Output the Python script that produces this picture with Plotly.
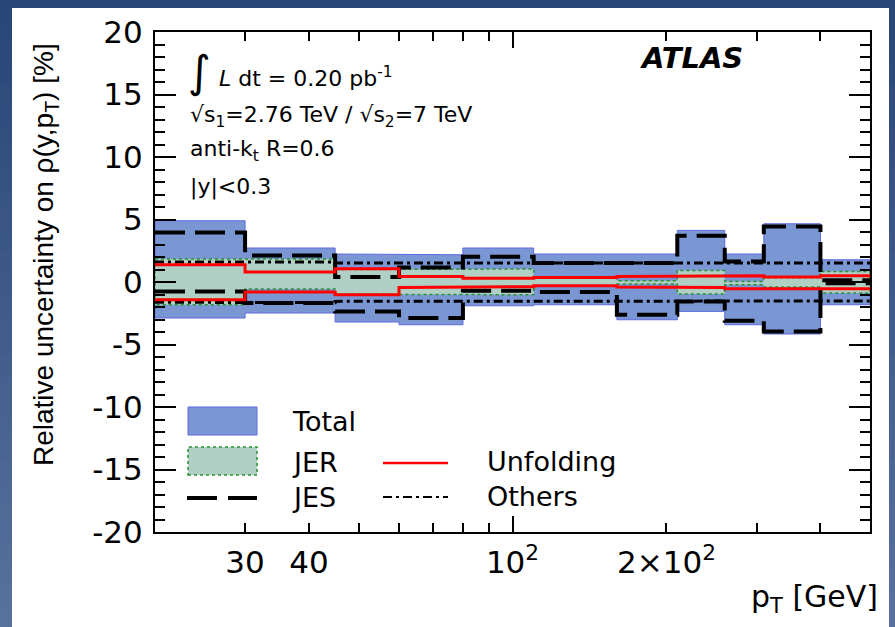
import plotly.graph_objects as go

# Bin edges in jet pT [GeV]
pt_edges = [20, 30, 45, 60, 80, 110, 160, 210, 260, 310, 400, 500]

# Relative uncertainty components [%] per pT bin (upward / downward variation)
total_up = [4.90, 2.72, 2.24, 2.18, 2.72, 2.24, 2.24, 4.13, 2.24, 4.66, 1.78]
total_dn = [-2.88, -2.48, -3.20, -3.42, -1.90, -1.82, -3.02, -2.35, -3.42, -4.16, -1.82]

jer_up = [1.84, 1.84, 1.00, 0.98, 1.04, 0.33, 0.10, 0.93, 0.05, 0.35, 0.85]
jer_dn = [-1.82, -0.55, -0.98, -1.02, -1.02, -0.30, -0.16, -0.96, -0.22, -0.40, -0.88]

jes_up = [3.97, 2.13, 0.40, 1.17, 2.02, 1.52, 1.52, 3.70, 1.65, 4.45, 0.15]
jes_dn = [-0.75, -1.68, -2.35, -2.88, -0.70, -0.80, -2.62, -1.55, -3.10, -3.95, -0.10]

unf_up = [1.38, 0.80, 1.06, 0.45, 0.30, 0.37, 0.45, 0.50, 0.50, 0.40, 0.50]
unf_dn = [-1.42, -0.80, -1.02, -0.43, -0.38, -0.30, -0.40, -0.43, -0.54, -0.48, -0.54]

oth_up = [1.60, 1.60, 1.52, 1.52, 1.52, 1.52, 1.52, 1.52, 1.52, 1.52, 1.52]
oth_dn = [-1.62, -1.65, -1.55, -1.52, -1.52, -1.52, -1.52, -1.52, -1.52, -1.52, -1.52]

y_ticks = [-20, -15, -10, -5, 0, 5, 10, 15, 20]
y_ticktext = ["-20", "-15", "-10", "-5", "0", "5", "10", "15", "20"]
x_ticks = [30, 40, 100, 200]
x_ticktext = ["30", "40", "10<sup>2</sup>", "2×10<sup>2</sup>"]
x_minor = [50, 60, 70, 80, 90, 300, 400]

# Figure geometry (pixels)
W, H = 895, 627
L, R, T, B = 155, 870, 32, 532

TOTAL_FILL = "rgb(122,151,212)"
TOTAL_LINE = "rgb(95,105,225)"
JER_FILL = "rgb(176,208,197)"
JER_LINE = "rgb(40,145,50)"
FONT = "DejaVu Sans, Liberation Sans, Arial, sans-serif"


def step(edges, vals):
    xs, ys = [], []
    for i, v in enumerate(vals):
        xs += [edges[i], edges[i + 1]]
        ys += [v, v]
    return xs, ys


def band(edges, up, dn):
    xu, yu = step(edges, up)
    xd, yd = step(edges, dn)
    return xu + xd[::-1] + [xu[0]], yu + yd[::-1] + [yu[0]]


def px(x):
    return (x - L) / (R - L)


def py(y):
    return (B - y) / (B - T)


fig = go.Figure()

bx, by = band(pt_edges, total_up, total_dn)
fig.add_trace(go.Scatter(x=bx, y=by, mode="lines", fill="toself",
                         fillcolor=TOTAL_FILL, line=dict(color=TOTAL_LINE, width=1),
                         name="Total", hoverinfo="skip"))

bx, by = band(pt_edges, jer_up, jer_dn)
fig.add_trace(go.Scatter(x=bx, y=by, mode="lines", fill="toself",
                         fillcolor=JER_FILL, line=dict(color=JER_LINE, width=1.5, dash="dot"),
                         name="JER", hoverinfo="skip"))

for vals in (jes_up, jes_dn):
    sx, sy = step(pt_edges, vals)
    fig.add_trace(go.Scatter(x=sx, y=sy, mode="lines",
                             line=dict(color="black", width=4, dash="30px,10px"),
                             name="JES", hoverinfo="skip"))

for vals in (oth_up, oth_dn):
    sx, sy = step(pt_edges, vals)
    fig.add_trace(go.Scatter(x=sx, y=sy, mode="lines",
                             line=dict(color="black", width=3, dash="9px,4px,3px,4px"),
                             name="Others", hoverinfo="skip"))

for vals in (unf_up, unf_dn):
    sx, sy = step(pt_edges, vals)
    fig.add_trace(go.Scatter(x=sx, y=sy, mode="lines",
                             line=dict(color="rgb(255,0,0)", width=3),
                             name="Unfolding", hoverinfo="skip"))

# invisible trace on the overlay axis carrying the long tick at 10^2
fig.add_trace(go.Scatter(x=[100], y=[0], xaxis="x2", mode="markers",
                         marker=dict(opacity=0), showlegend=False, hoverinfo="skip"))

shapes = []
# slide background: vertical blue gradient with a white canvas on top
n_bands = 30
c_top = (40, 70, 120)
c_bot = (88, 112, 158)
for i in range(n_bands):
    f = i / (n_bands - 1)
    col = tuple(int(round(c_top[k] + (c_bot[k] - c_top[k]) * f)) for k in range(3))
    y0 = H * i / n_bands
    y1 = H * (i + 1) / n_bands + 1
    shapes.append(dict(type="rect", xref="paper", yref="paper", layer="below",
                       x0=px(0), x1=px(W), y0=py(y1), y1=py(y0),
                       fillcolor="rgb(%d,%d,%d)" % col, line=dict(width=0)))
shapes.append(dict(type="rect", xref="paper", yref="paper", layer="below",
                   x0=px(12), x1=px(889), y0=py(H + 2), y1=py(8),
                   fillcolor="white", line=dict(width=0)))

# legend swatches
shapes.append(dict(type="rect", xref="paper", yref="paper",
                   x0=px(188), x1=px(257), y0=py(435), y1=py(407),
                   fillcolor=TOTAL_FILL, line=dict(color=TOTAL_LINE, width=1)))
shapes.append(dict(type="rect", xref="paper", yref="paper",
                   x0=px(188), x1=px(257), y0=py(475), y1=py(447),
                   fillcolor=JER_FILL, line=dict(color=JER_LINE, width=1.5, dash="dot")))
shapes.append(dict(type="line", xref="paper", yref="paper",
                   x0=px(187), x1=px(257), y0=py(498), y1=py(498),
                   line=dict(color="black", width=4, dash="30px,11px")))
shapes.append(dict(type="line", xref="paper", yref="paper",
                   x0=px(383), x1=px(448), y0=py(463), y1=py(463),
                   line=dict(color="rgb(255,0,0)", width=2.5)))
shapes.append(dict(type="line", xref="paper", yref="paper",
                   x0=px(383), x1=px(448), y0=py(497), y1=py(497),
                   line=dict(color="black", width=2, dash="9px,4px,3px,4px")))

annotations = []


def text(x, y, s, size, xanchor="left", font=FONT, **kw):
    annotations.append(dict(x=px(x), y=py(y), xref="paper", yref="paper", text=s,
                            showarrow=False, xanchor=xanchor, yanchor="middle",
                            font=dict(family=font, size=size, color="black"), **kw))


text(290, 421, "Total", 27)
text(290, 462, "JER", 27)
text(290, 498, "JES", 27)
text(485, 461, "Unfolding", 27)
text(485, 497, "Others", 27)

text(186, 72, "∫", 44)
text(217, 77, "<i>L</i> dt = 0.20 pb<sup>-1</sup>", 22)
text(188, 116, "√s<sub>1</sub>=2.76 TeV / √s<sub>2</sub>=7 TeV", 22)
text(188, 150, "anti-k<sub>t</sub> R=0.6", 22)
text(188, 187, "|y|&lt;0.3", 22)
text(638, 58, "<b><i>ATLAS</i></b>", 29)

text(880, 598, "p<sub>T</sub> [GeV]", 30, xanchor="right")
text(46, 255, "Relative uncertainty on ρ(y,p<sub>T</sub>) [%]", 28, xanchor="center",
     font="Liberation Sans, Arial, sans-serif", textangle=-90)

axis_common = dict(showgrid=False, zeroline=False, showline=True, linecolor="black",
                   linewidth=2, ticks="inside", tickcolor="black", tickwidth=1.5,
                   mirror="ticks")

fig.update_layout(
    width=W, height=H,
    margin=dict(l=L, r=W - R, t=T, b=H - B),
    paper_bgcolor="rgb(60,90,140)",
    plot_bgcolor="white",
    showlegend=False,
    shapes=shapes,
    annotations=annotations,
    xaxis=dict(type="log", range=[1.30103, 2.69897], tickvals=x_ticks, ticktext=x_ticktext,
               ticklen=9, ticklabelstandoff=2,
               tickfont=dict(family=FONT, size=31, color="black"),
               minor=dict(tickvals=x_minor, ticks="inside", ticklen=9, tickcolor="black",
                          tickwidth=1.5),
               **axis_common),
    xaxis2=dict(type="log", range=[1.30103, 2.69897], overlaying="x", anchor="y",
                side="bottom", tickvals=[100], ticklen=16, showticklabels=False,
                ticks="inside", tickcolor="black", tickwidth=1.5, mirror="ticks",
                showline=False, showgrid=False, zeroline=False),
    yaxis=dict(range=[-20, 20], tickvals=y_ticks, ticktext=y_ticktext, ticklen=21,
               ticklabelstandoff=4,
               tickfont=dict(family=FONT, size=31, color="black"),
               minor=dict(dtick=1, ticks="inside", ticklen=10, tickcolor="black",
                          tickwidth=1.5),
               **axis_common),
)

fig.write_html("out.html")
